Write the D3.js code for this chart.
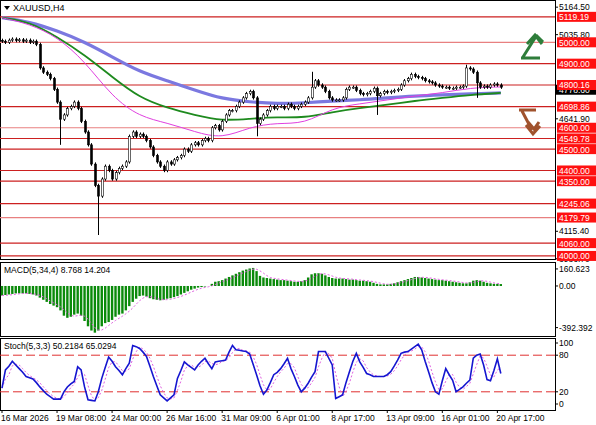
<!DOCTYPE html>
<html><head><meta charset="utf-8">
<script src="https://cdn.jsdelivr.net/npm/d3@7"></script>
<style>body{margin:0;background:#fff}svg{font-family:"Liberation Sans",Arial,sans-serif}</style>
</head><body><svg id="c" width="596" height="425"></svg>
<script>
// closes per H4 bar
const closes = [5005,5000,5010,5015,5008,5012,5005,5010,5000,5005,4990,4880,4860,4850,4830,4780,4720,4640,4660,4690,
4700,4720,4690,4630,4580,4520,4430,4330,4280,4360,4420,4400,4360,4390,4410,4420,4440,4560,4580,4560,
4570,4560,4540,4510,4470,4440,4420,4400,4440,4430,4450,4460,4470,4500,4490,4520,4530,4520,4540,4550,
4540,4600,4610,4590,4630,4660,4680,4680,4700,4720,4740,4760,4770,4740,4620,4640,4660,4680,4700,4690,
4700,4700,4690,4710,4700,4690,4700,4710,4720,4740,4790,4820,4800,4790,4770,4740,4730,4730,4730,4740,
4780,4790,4790,4775,4760,4755,4760,4770,4785,4750,4760,4770,4765,4770,4775,4780,4800,4820,4830,4850,
4840,4835,4830,4820,4815,4810,4800,4795,4790,4790,4785,4785,4790,4790,4795,4880,4875,4860,4810,4790,
4795,4790,4800,4805,4800,4790];
const wickExtremes = [{i:17,low:4520},{i:28,low:4098},{i:74,low:4560},{i:90,high:4862},{i:109,low:4660},{i:135,high:4895},{i:138,low:4740}];
const maIdx = [0,8,16,24,32,40,48,56,64,72,80,88,96,104,112,120,128,136,145];
const maBlue = [5115,5096,5054,5002,4932,4862,4820,4777,4735,4721,4712,4716,4726,4730,4740,4749,4754,4759,4763];
const maGreen = [5115,5096,5026,4941,4838,4740,4693,4660,4632,4642,4651,4646,4674,4693,4707,4726,4740,4754,4763];
const maPink = [5115,5086,5026,4913,4745,4651,4623,4581,4548,4604,4623,4618,4693,4712,4730,4749,4763,4787,4791];
const levels = [5119.19,5000,4900,4800.16,4698.86,4600,4549.78,4500,4400,4350,4245.06,4179.79,4060,4000];
const lightLevels = [5000,4600,4179.79];
const priceTicks = [5164.50,5035.80,4641.90,4115.40];
const macd = [-90,-85,-80,-75,-70,-70,-70,-70,-75,-80,-90,-110,-130,-150,-170,-185,-200,-230,-280,-300,
-290,-270,-260,-280,-330,-380,-420,-440,-420,-380,-350,-340,-320,-290,-270,-260,-230,-190,-150,-120,
-95,-90,-100,-115,-125,-130,-135,-130,-120,-115,-105,-95,-80,-65,-50,-35,-25,-15,-10,-5,
0,20,40,45,55,70,85,100,115,130,145,155,165,170,140,95,80,75,70,65,
60,55,55,50,45,40,40,45,55,80,110,120,120,115,100,85,75,70,70,70,
65,60,60,55,50,50,45,40,30,20,15,15,15,20,25,35,45,55,65,75,
85,85,80,75,70,65,60,55,55,50,45,40,35,30,25,25,35,50,55,50,
40,30,25,20,20,18];
const stoch = [26,56,62,70,64,58,52,45,43,41,35,28,22,16,12,8,8,8,20,28,
33,37,61,56,28,7,6,5,20,42,60,77,70,61,55,48,58,67,96,94,
91,85,78,62,45,30,15,10,5,10,15,42,55,69,64,60,56,64,70,75,
66,58,69,70,71,72,85,96,89,88,87,86,82,65,48,30,16,23,35,48,
52,58,66,75,58,45,31,20,26,34,44,53,86,86,86,75,64,9,12,15,
35,53,70,83,69,60,50,48,45,45,45,45,48,53,62,72,83,85,86,90,
94,98,89,70,53,35,20,16,38,58,48,39,20,24,28,34,39,75,80,82,
64,40,38,55,74,50];
const dateLabels = ["16 Mar 2026","19 Mar 08:00","24 Mar 00:00","26 Mar 16:00","31 Mar 09:00","6 Apr 01:00","8 Apr 17:00","13 Apr 09:00","16 Apr 01:00","20 Apr 17:00"];

const svg = d3.select('#c');
const W = 555;
const x = d3.scaleLinear().domain([0, 1]).range([2, 5.44]);
const y = d3.scaleLinear().domain([3981, 5198]).range([260, 0]);
const ym = d3.scaleLinear().domain([-462, 226]).range([335, 262]);
const ys = d3.scaleLinear().domain([0, 100]).range([404, 343]);
const red = '#c00000';

// panels
[[0,0,259],[0,262,74],[0,338,72]].forEach(p => svg.append('rect').attr('x',0.5).attr('y',p[1]+0.5).attr('width',W).attr('height',p[2]).attr('fill','#fff').attr('stroke','#000'));

// levels
levels.forEach(v => svg.append('line').attr('x1',0).attr('x2',W).attr('y1',y(v)).attr('y2',y(v))
  .attr('stroke', lightLevels.includes(v) ? '#e88080' : '#cc2020').attr('stroke-width',1.2));

// moving averages
const ma = (vals, col, w) => svg.append('path').datum(vals.map((v,k)=>[maIdx[k],v]))
  .attr('d', d3.line().x(d=>x(d[0])).y(d=>y(d[1])).curve(d3.curveBasis))
  .attr('fill','none').attr('stroke',col).attr('stroke-width',w);
ma(maBlue,'#7b78e0',3.2); ma(maGreen,'#1e8a1e',1.8); ma(maPink,'#e040e0',1);

// candles
const g = svg.append('g');
closes.forEach((c,i) => {
  const o = i ? closes[i-1] : c + 4;
  let hi = Math.max(o,c) + 8, lo = Math.min(o,c) - 8;
  const ex = wickExtremes.find(e => e.i === i);
  if (ex && ex.low) lo = ex.low;
  if (ex && ex.high) hi = ex.high;
  const cx = Math.round(x(i)) + 0.5;
  g.append('line').attr('x1',cx).attr('x2',cx).attr('y1',y(hi)).attr('y2',y(lo)).attr('stroke','#000');
  const top = y(Math.max(o,c)), h = Math.max(1, y(Math.min(o,c)) - top);
  g.append('rect').attr('x',cx-1).attr('y',top).attr('width',2).attr('height',h)
    .attr('fill', c >= o ? '#fff' : '#000').attr('stroke','#000').attr('stroke-width',0.6);
});

// title
svg.append('path').attr('d','M4,6 L10,6 L7,10 Z').attr('fill','#000');
svg.append('text').attr('x',13).attr('y',11).attr('font-size',9).text('XAUUSD,H4');

// price axis
const rt = svg.append('g').attr('font-size',8.5);
priceTicks.concat([3986.70]).forEach(v => {
  rt.append('line').attr('x1',W).attr('x2',W+3).attr('y1',y(v)).attr('y2',y(v)).attr('stroke','#000');
  rt.append('text').attr('x',W+4).attr('y',y(v)+3).text(v.toFixed(2));
});
rt.append('rect').attr('x',W+1).attr('y',y(4778)-5).attr('width',40).attr('height',10).attr('fill','#000');
rt.append('text').attr('x',W+4).attr('y',y(4778)+3).attr('fill','#fff').text('4778.60');
levels.forEach(v => {
  rt.append('rect').attr('x',W+2).attr('y',y(v)-5).attr('width',39).attr('height',10).attr('fill','#ff1010');
  rt.append('text').attr('x',W+4).attr('y',y(v)+3.5).attr('fill','#fff').text(v.toFixed(2));
});

// arrows
svg.append('path').attr('d','M521,58 L540,58 M523,57 L535,38 M527,44 L535,35 L542,44 M531,42 L537,36 L543,42')
  .attr('fill','none').attr('stroke','#2e7d3a').attr('stroke-width',3);
svg.append('path').attr('d','M519,110 L536,110 M522,111 L532,130 M526,125 L533,134 L540,126 M528,122 L534,129 L539,122')
  .attr('fill','none').attr('stroke','#a0522d').attr('stroke-width',3);

// MACD
svg.append('g').selectAll('rect').data(macd).join('rect')
  .attr('x',(d,i)=>x(i)-1.2).attr('width',2.4)
  .attr('y',d=>ym(Math.max(0,d))).attr('height',d=>Math.abs(ym(d)-ym(0)))
  .attr('fill','#0a8a0a');
const sig = macd.map((d,i)=> d3.mean(macd.slice(Math.max(0,i-3), i+1)));
svg.append('path').datum(sig).attr('d', d3.line().x((d,i)=>x(i)).y(d=>ym(d)))
  .attr('fill','none').attr('stroke','#e060e0').attr('stroke-dasharray','2,2');
svg.append('text').attr('x',4).attr('y',273).attr('font-size',8.5).text('MACD(5,34,4) 8.768 14.204');
[[160.623,'160.623'],[0,'0.00'],[-392.392,'-392.392']].forEach(t => {
  svg.append('line').attr('x1',W).attr('x2',W+3).attr('y1',ym(t[0])).attr('y2',ym(t[0])).attr('stroke','#000');
  svg.append('text').attr('x',W+4).attr('y',ym(t[0])+3).attr('font-size',8.5).text(t[1]);
});

// Stochastic
[80,20].forEach(v => svg.append('line').attr('x1',0).attr('x2',W).attr('y1',ys(v)).attr('y2',ys(v))
  .attr('stroke','#e03030').attr('stroke-dasharray','9,4'));
const sSig = stoch.map((d,i)=> d3.mean(stoch.slice(Math.max(0,i-2), i+1)));
svg.append('path').datum(sSig).attr('d', d3.line().x((d,i)=>x(i)).y(d=>ys(d)))
  .attr('fill','none').attr('stroke','#e060e0').attr('stroke-dasharray','2,2');
svg.append('path').datum(stoch).attr('d', d3.line().x((d,i)=>x(i)).y(d=>ys(d)))
  .attr('fill','none').attr('stroke','#1515d0').attr('stroke-width',1.6);
svg.append('text').attr('x',4).attr('y',349).attr('font-size',8.5).text('Stoch(5,3,3) 50.2184 65.0294');
[100,80,20,0].forEach(v => {
  svg.append('line').attr('x1',W).attr('x2',W+3).attr('y1',ys(v)).attr('y2',ys(v)).attr('stroke','#000');
  svg.append('text').attr('x',W+4).attr('y',ys(v)+3).attr('font-size',8.5).text(v);
});

// time axis
dateLabels.forEach((l,k) => {
  const px = x(k*16);
  svg.append('line').attr('x1',px).attr('x2',px).attr('y1',410).attr('y2',413).attr('stroke','#000');
  svg.append('text').attr('x',px-1).attr('y',421).attr('font-size',8.5).text(l);
});
</script></body></html>
